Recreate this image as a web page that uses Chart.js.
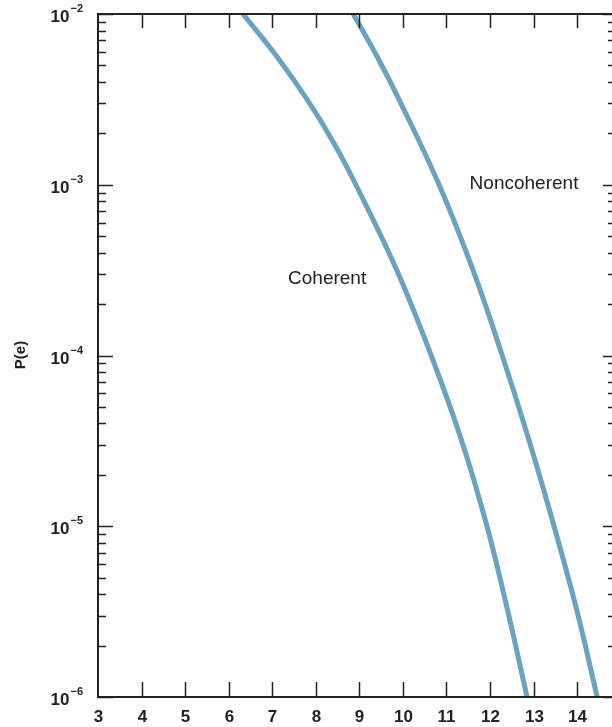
<!DOCTYPE html>
<html>
<head>
<meta charset="utf-8">
<script src="https://cdn.jsdelivr.net/npm/chart.js@4.4.1/dist/chart.umd.min.js"></script>
<style>
html, body { margin: 0; padding: 0; background: #fff; }
#wrap { width: 612px; height: 727px; }
</style>
</head>
<body>
<div id="wrap"><canvas id="myChart" width="612" height="727"></canvas></div>
<script>
// tick values for the two axes
var xTicks = [3, 4, 5, 6, 7, 8, 9, 10, 11, 12, 13, 14];
var yDecades = [-2, -3, -4, -5, -6];

// curves: SNR (dB) and error probability
var coherentSnr = [6.33, 7.11, 7.80, 8.40, 8.92, 9.86, 10.65, 11.35, 11.93, 12.41, 12.85];
var coherentPe = [1e-2, 5.62e-3, 3.16e-3, 1.78e-3, 1e-3, 3.16e-4, 1e-4, 3.16e-5, 1e-5, 3.16e-6, 1e-6];
var noncoherentSnr = [8.86, 9.41, 9.91, 10.83, 11.61, 12.28, 12.90, 13.47, 14.0, 14.46];
var noncoherentPe = [1e-2, 5.62e-3, 3.16e-3, 1e-3, 3.16e-4, 1e-4, 3.16e-5, 1e-5, 3.16e-6, 1e-6];

// curve names and where they sit
var curveNames = ['Coherent', 'Noncoherent'];
var nameSnr = [8.26, 12.78];
var namePe = [2.8e-4, 1.02e-3];

var lineColor = '#6aa2bf';
var inkColor = '#222';

function toPoints(xs, ys) {
    var pts = [];
    for (var i = 0; i < xs.length; i++) {
        pts.push({ x: xs[i], y: ys[i] });
    }
    return pts;
}

// draws the frame, inward ticks and labels in the old print style
var paperAxes = {
    id: 'paperAxes',
    afterDatasetsDraw: function(chart) {
        var ctx = chart.ctx;
        var a = chart.chartArea;
        var xs = chart.scales.x;
        var ys = chart.scales.y;
        ctx.save();
        ctx.strokeStyle = inkColor;
        ctx.fillStyle = inkColor;

        // frame: left, top, bottom
        ctx.lineWidth = 2;
        ctx.beginPath();
        ctx.moveTo(a.left, a.top);
        ctx.lineTo(a.right, a.top);
        ctx.moveTo(a.left, a.top - 1);
        ctx.lineTo(a.left, a.bottom + 1);
        ctx.moveTo(a.left, a.bottom);
        ctx.lineTo(a.right, a.bottom);
        ctx.stroke();

        // x ticks top and bottom, labels below
        ctx.lineWidth = 1.5;
        ctx.font = 'bold 17px "Liberation Sans", Arial, sans-serif';
        ctx.textAlign = 'center';
        ctx.textBaseline = 'middle';
        xTicks.forEach(function(v) {
            var px = Math.round(xs.getPixelForValue(v)) + 0.5;
            if (v !== xTicks[0]) {
                ctx.beginPath();
                ctx.moveTo(px, a.top);
                ctx.lineTo(px, a.top + 14);
                ctx.moveTo(px, a.bottom);
                ctx.lineTo(px, a.bottom - 15);
                ctx.stroke();
            }
            ctx.fillText(String(v), px, a.bottom + 20);
        });

        // y ticks: decades long, 2..9 short
        yDecades.forEach(function(d) {
            var py = Math.round(ys.getPixelForValue(Math.pow(10, d))) + 0.5;
            ctx.lineWidth = 1.5;
            ctx.beginPath();
            ctx.moveTo(a.left, py);
            ctx.lineTo(a.left + 15, py);
            ctx.moveTo(a.right, py);
            ctx.lineTo(a.right - 9, py);
            ctx.stroke();
            if (d < -2) {
                for (var m = 2; m <= 9; m++) {
                    var my = Math.round(ys.getPixelForValue(m * Math.pow(10, d))) + 0.5;
                    ctx.beginPath();
                    ctx.moveTo(a.left, my);
                    ctx.lineTo(a.left + 8, my);
                    ctx.moveTo(a.right, my);
                    ctx.lineTo(a.right - 4, my);
                    ctx.stroke();
                }
            }
            // label 10^d
            var sup = '\u2212' + String(-d);
            ctx.textAlign = 'right';
            ctx.font = 'bold 11px "Liberation Sans", Arial, sans-serif';
            var supW = ctx.measureText(sup).width;
            ctx.fillText(sup, 83, py - 6);
            ctx.font = 'bold 17px "Liberation Sans", Arial, sans-serif';
            ctx.fillText('10', 83 - supW - 1, py + 3);
        });

        // axis title
        ctx.save();
        ctx.translate(21, 355);
        ctx.rotate(-Math.PI / 2);
        ctx.textAlign = 'center';
        ctx.font = 'bold 15px "Liberation Sans", Arial, sans-serif';
        ctx.fillText('P(e)', 0, 0);
        ctx.restore();

        // curve names
        ctx.textAlign = 'center';
        ctx.font = '19px "Liberation Sans", Arial, sans-serif';
        curveNames.forEach(function(name, i) {
            ctx.fillText(name, xs.getPixelForValue(nameSnr[i]), ys.getPixelForValue(namePe[i]));
        });
        ctx.restore();
    }
};

var ctx = document.getElementById('myChart');
var myChart = new Chart(ctx, {
    type: 'scatter',
    data: {
        datasets: [{
            label: curveNames[0],
            data: toPoints(coherentSnr, coherentPe),
            showLine: true,
            borderColor: lineColor,
            borderWidth: 5,
            pointRadius: 0,
            tension: 0.4
        }, {
            label: curveNames[1],
            data: toPoints(noncoherentSnr, noncoherentPe),
            showLine: true,
            borderColor: lineColor,
            borderWidth: 5,
            pointRadius: 0,
            tension: 0.4
        }]
    },
    options: {
        responsive: false,
        animation: false,
        devicePixelRatio: 1,
        layout: { padding: { left: 98, top: 14, right: 0, bottom: 30 } },
        plugins: {
            legend: { display: false },
            tooltip: { enabled: false }
        },
        scales: {
            x: { type: 'linear', min: 3, max: 14.8, display: false },
            y: { type: 'logarithmic', min: 1e-6, max: 1e-2, display: false }
        }
    },
    plugins: [paperAxes]
});
</script>
</body>
</html>
